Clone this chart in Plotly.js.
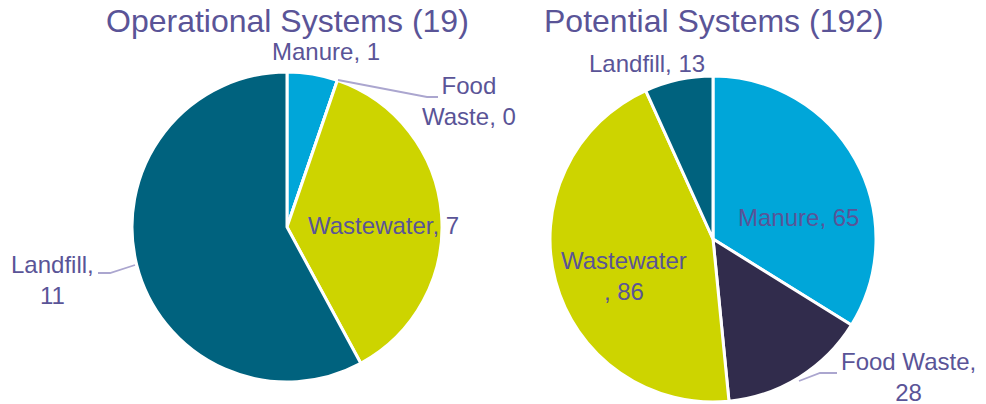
<!DOCTYPE html>
<html>
<head>
<meta charset="utf-8">
<script src="https://cdn.plot.ly/plotly-3.0.1.min.js"></script>
<style>html,body{margin:0;padding:0;background:#fff;}#chart{width:986px;height:404px;}</style>
</head>
<body>
<div id="chart"></div>
<script>
// ---- data ----
const categories = ['Manure', 'Food Waste', 'Wastewater', 'Landfill'];
const operationalValues = [1, 0, 7, 11];
const potentialValues = [65, 28, 86, 13];
const chartTitles = ['Operational Systems', 'Potential Systems'];

// ---- styling ----
const W = 986, H = 404;
const sliceColors = ['#00A6D9', '#312C4C', '#CDD400', '#00627E'];
const textColor = '#5A5497';
const leaderColor = '#ABA6CF';
const fontFamily = '"Liberation Sans", Arial, sans-serif';
const px = x => x / W;
const py = y => 1 - y / H;

// pie boxes in pixels [left, top, right, bottom]
const boxes = [[132, 72, 442, 382], [550, 76, 876, 402]];
const titlePos = [[287, 21], [714, 21]];
// label placement per pie, per category: [cx, cy, wrapMode]
const labelPos = [
  [[326, 51, 'none'], [469, 101, 'firstSpace'], [383, 225, 'none'], [52, 280, 'afterComma']],
  [[798, 217, 'none'], [908, 377, 'afterComma'], [624, 276, 'beforeComma'], [647, 63, 'none']]
];
// leader lines (pixel polylines) for outside labels
const leaders = [
  [[338, 80], [427, 97], [438, 97]],
  [[135, 265], [110, 273], [98, 273]],
  [[799, 381], [820, 373], [837, 373]]
];

function wrap(cat, val, mode) {
  if (mode === 'firstSpace') {
    const i = cat.indexOf(' ');
    return cat.slice(0, i) + '<br>' + cat.slice(i + 1) + ', ' + val;
  }
  if (mode === 'afterComma') return cat + ',<br>' + val;
  if (mode === 'beforeComma') return cat + '<br>, ' + val;
  return cat + ', ' + val;
}

const seriesList = [operationalValues, potentialValues];
const traces = seriesList.map((vals, k) => {
  const b = boxes[k];
  return {
    type: 'pie',
    labels: categories,
    values: vals,
    sort: false,
    direction: 'clockwise',
    rotation: 0,
    textinfo: 'none',
    hoverinfo: 'label+value',
    showlegend: false,
    marker: {colors: sliceColors, line: {color: '#ffffff', width: 3}},
    domain: {x: [px(b[0]), px(b[2])], y: [py(b[3]), py(b[1])]}
  };
});

const annotations = [];
seriesList.forEach((vals, k) => {
  const total = vals.reduce((a, c) => a + c, 0);
  annotations.push({
    text: chartTitles[k] + ' (' + total + ')',
    x: px(titlePos[k][0]), y: py(titlePos[k][1]),
    xref: 'paper', yref: 'paper', xanchor: 'center', yanchor: 'middle',
    showarrow: false, font: {family: fontFamily, size: 32, color: textColor}
  });
  categories.forEach((cat, i) => {
    const p = labelPos[k][i];
    annotations.push({
      text: wrap(cat, vals[i], p[2]),
      x: px(p[0]), y: py(p[1]),
      xref: 'paper', yref: 'paper', xanchor: 'center', yanchor: 'middle', align: 'center',
      showarrow: false, font: {family: fontFamily, size: 24, color: textColor}
    });
  });
});

const shapes = leaders.map(pts => ({
  type: 'path', xref: 'paper', yref: 'paper',
  path: pts.map((p, i) => (i ? 'L' : 'M') + px(p[0]) + ',' + py(p[1])).join(' '),
  line: {color: leaderColor, width: 1.8}
}));

const layout = {
  width: W, height: H,
  margin: {l: 0, r: 0, t: 0, b: 0},
  paper_bgcolor: '#ffffff',
  annotations: annotations,
  shapes: shapes
};

Plotly.newPlot('chart', traces, layout, {displayModeBar: false, staticPlot: true});
</script>
</body>
</html>
